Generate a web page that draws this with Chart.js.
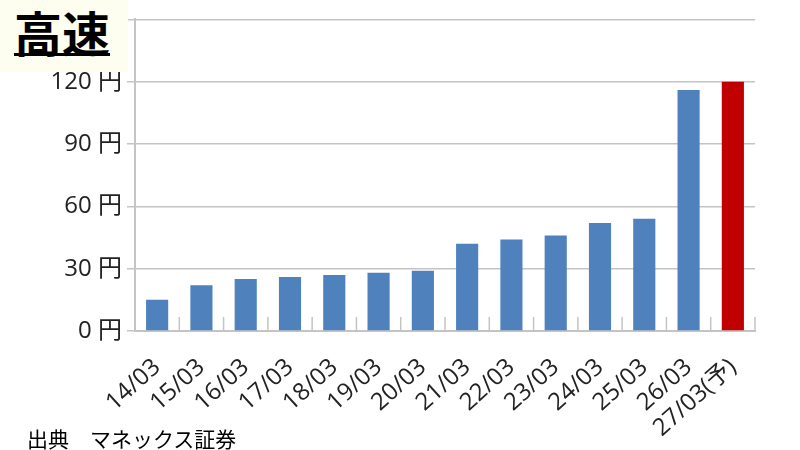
<!DOCTYPE html>
<html><head><meta charset="utf-8">
<script src="https://cdn.jsdelivr.net/npm/chart.js@4"></script>
<style>
html,body{margin:0;padding:0;background:#fff;}
#wrap{position:relative;width:800px;height:450px;}
canvas{position:absolute;left:0;top:0;}
#title{position:absolute;left:0;top:0;width:128px;height:72px;background:#fdfdf0;}
#title span{position:absolute;left:14px;top:-4px;font:bold 48px "Noto Sans CJK JP";color:#000;text-decoration:underline;text-decoration-thickness:3px;text-underline-offset:1px;}
#src{position:absolute;left:27px;top:423px;font:21px "Noto Sans CJK JP";color:#000;white-space:pre;}
</style></head>
<body><div id="wrap"><canvas id="c" width="800" height="450"></canvas>
<div id="title"><span>高速</span></div>
<div id="src">出典　マネックス証券</div></div>
<script>
const categories = ["14/03","15/03","16/03","17/03","18/03","19/03","20/03","21/03","22/03","23/03","24/03","25/03","26/03","27/03(予)"];
const values = [15,22,25,26,27,28,29,42,44,46,52,54,116,120];
const barColors = ["#4f81bd","#4f81bd","#4f81bd","#4f81bd","#4f81bd","#4f81bd","#4f81bd","#4f81bd","#4f81bd","#4f81bd","#4f81bd","#4f81bd","#4f81bd","#c00000"];
const yMax = 150, yStep = 30;
const fontFam = '"Open Sans", "Noto Sans CJK JP", sans-serif';

const innerTicks = {
  id:'innerTicks',
  afterDatasetsDraw(chart){
    const x = chart.scales.x, y = chart.scales.y, ctx = chart.ctx;
    const y0 = y.getPixelForValue(0);
    const step = x.getPixelForValue(1) - x.getPixelForValue(0);
    ctx.save();
    ctx.strokeStyle = '#c4c4c4'; ctx.lineWidth = 1.5;
    for (let i = 0; i < categories.length; i++) {
      const px = x.getPixelForValue(i) + step/2;
      ctx.beginPath(); ctx.moveTo(px, y0); ctx.lineTo(px, y0-14); ctx.stroke();
    }
    ctx.restore();
  }
};

new Chart(document.getElementById('c'), {
  type:'bar',
  data:{labels:categories, datasets:[{data:values, backgroundColor:barColors, barPercentage:0.5, categoryPercentage:1.0}]},
  options:{
    responsive:false, animation:false, devicePixelRatio:1,
    layout:{padding:{top:18,right:45,left:0,bottom:0}},
    plugins:{legend:{display:false},tooltip:{enabled:false}},
    scales:{
      x:{
        offset:true,
        grid:{display:false, drawTicks:false},
        border:{display:true,color:'#c4c4c4',width:2},
        ticks:{color:'#222',font:{family:fontFam,size:24},maxRotation:42,minRotation:42,autoSkip:false,padding:22},
        afterFit(s){s.height = 119;}
      },
      y:{
        min:0,max:yMax,
        grid:{color:'#c4c4c4',lineWidth:1.5,tickLength:8,tickColor:'#c4c4c4'},
        border:{display:true,color:'#c4c4c4',width:2},
        ticks:{stepSize:yStep,color:'#222',font:{family:fontFam,size:24},padding:5,callback:v=>v+' 円'},
        afterFit(s){s.width = 135;}
      }
    }
  },
  plugins:[innerTicks]
});
</script></body></html>
